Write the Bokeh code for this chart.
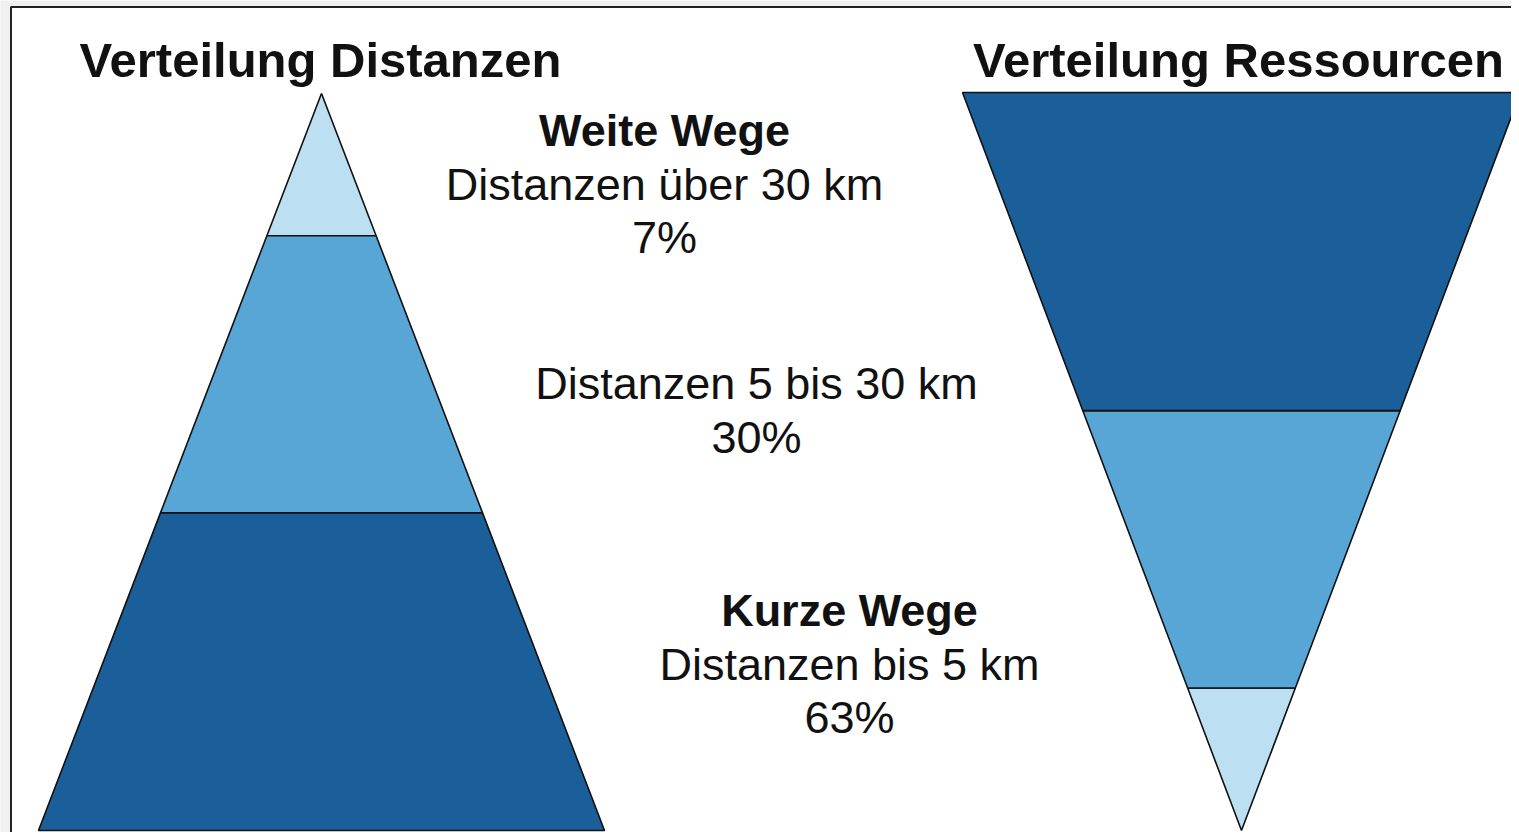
from bokeh.plotting import figure
from bokeh.models import Range1d
from bokeh.core.properties import value
from bokeh.embed import file_html
from bokeh.resources import INLINE

# ---- data ----
titles = ["Verteilung Distanzen", "Verteilung Ressourcen"]
band_names = ["Weite Wege", "", "Kurze Wege"]
band_desc = ["Distanzen über 30 km", "Distanzen 5 bis 30 km", "Distanzen bis 5 km"]
band_share = [7, 30, 63]
# cumulative depth of each band boundary measured from the apex (fraction of height)
band_depth = [0.193, 0.569, 1.0]
band_colors = ["#bddff2", "#58a6d6", "#1a5f9a"]

W, H = 1511, 832
p = figure(width=W, height=H, x_range=Range1d(0, W), y_range=Range1d(H, 0),
           output_backend="svg", toolbar_location=None, min_border=0)
p.axis.visible = False
p.grid.visible = False
p.outline_line_color = None
p.background_fill_color = "#f0f0f0"
p.border_fill_color = "#f0f0f0"

# frame
p.quad(left=[10.5], right=[1540], top=[6.5], bottom=[860], fill_color="white",
       line_color="#222222", line_width=2)

def pyramid(cx, apex_y, base_y, half_w):
    xs, ys = [], []
    height = base_y - apex_y
    prev = 0.0
    for d in band_depth:
        y0 = apex_y + height * prev
        y1 = apex_y + height * d
        w0 = half_w * prev
        w1 = half_w * d
        xs.append([cx - w0, cx + w0, cx + w1, cx - w1])
        ys.append([y0, y0, y1, y1])
        prev = d
    return xs, ys

# left pyramid (apex on top)
xs, ys = pyramid(321, 93, 830, 283)
p.patches(xs=xs, ys=ys, fill_color=band_colors, line_color="#111111", line_width=1.6)
# right inverted pyramid (apex at bottom): the light band at the apex
xs, ys = pyramid(1241, 830, 92, 279)
p.patches(xs=xs, ys=ys, fill_color=band_colors, line_color="#111111", line_width=1.6)

font = value("Liberation Sans")
# titles
p.text(x=[320, 1238], y=[59, 59], text=titles, text_font=font, text_font_size="49px",
       text_font_style="bold", text_align="center", text_baseline="alphabetic",
       text_color="#111111")

# labels
label_x = [664, 756, 849]
label_y = [130, 383, 610]
line_h = 53.5
for i in range(3):
    lines = []
    if band_names[i]:
        lines.append((band_names[i], "bold"))
    lines.append((band_desc[i], "normal"))
    lines.append((f"{band_share[i]}%", "normal"))
    for j, (t, st) in enumerate(lines):
        p.text(x=[label_x[i]], y=[label_y[i] + j * line_h], text=[t], text_font=font,
               text_font_size="45px", text_font_style=st, text_align="center",
               text_baseline="alphabetic", text_color="#111111")

open("out.html", "w").write(file_html(p, INLINE))
